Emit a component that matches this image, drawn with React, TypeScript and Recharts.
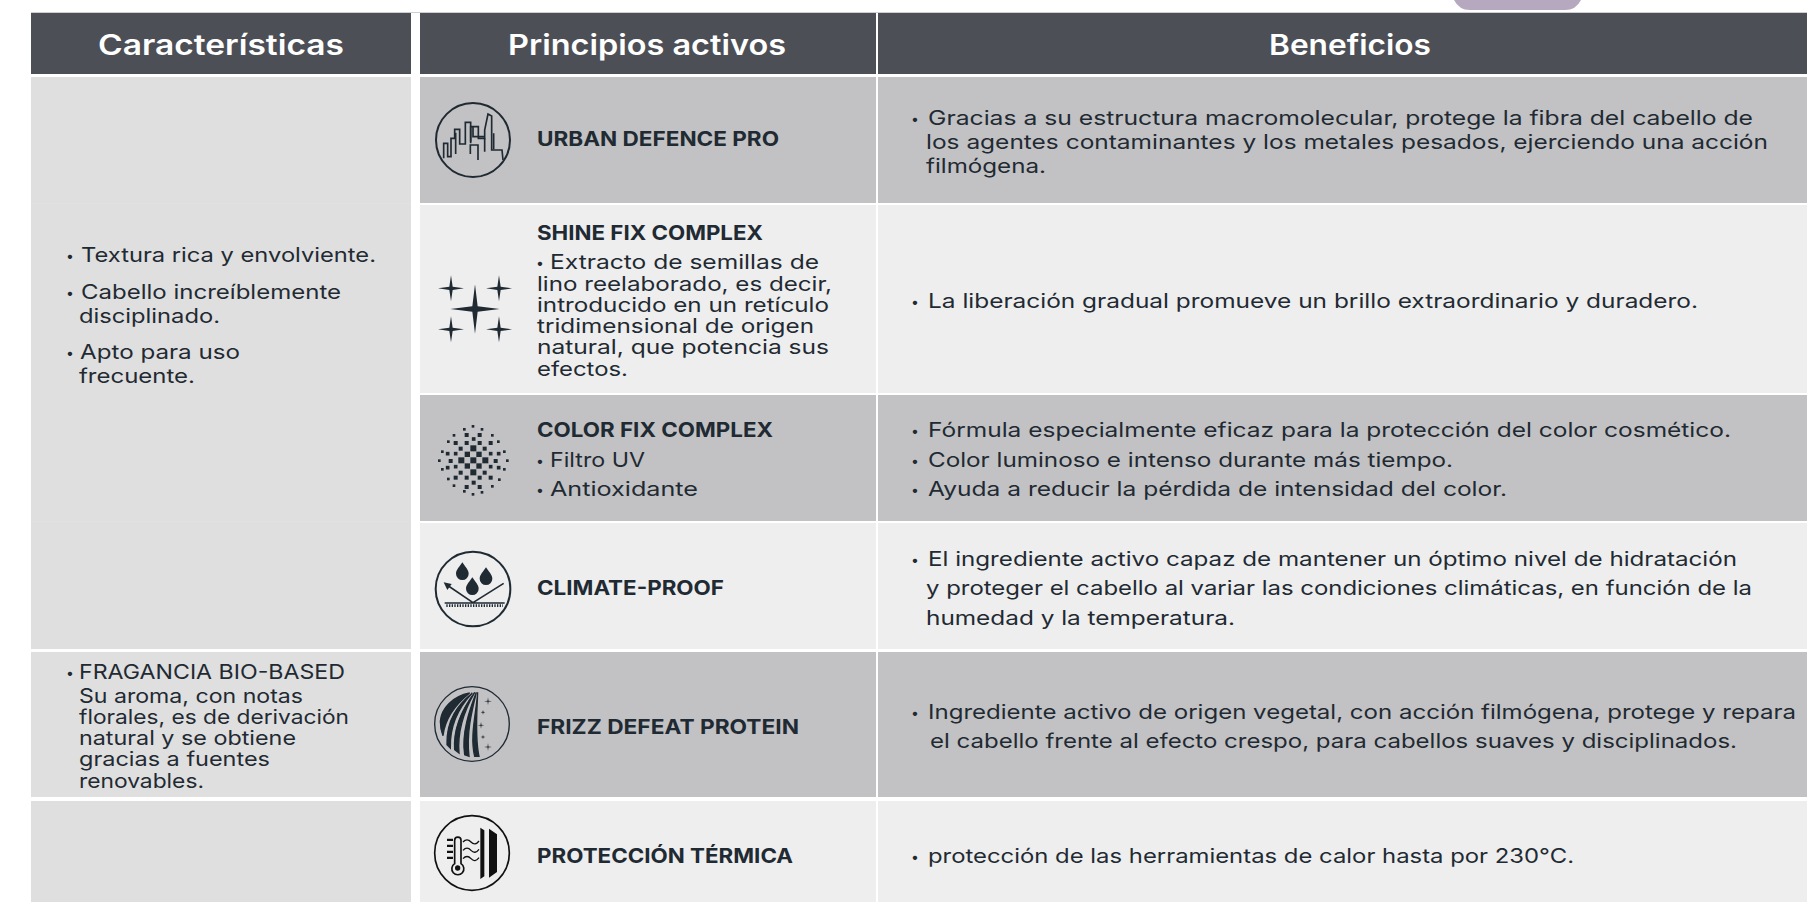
import React from 'react'
import { ScatterChart, Scatter, XAxis, YAxis, ReferenceArea } from 'recharts'

const WIDTH = 1807
const HEIGHT = 902
const FONT = 'Inter, "Noto Sans", sans-serif'
const INK = '#1f2a33'

// table grid, in axis units
const columnEdges = [[31, 411], [420, 876], [878, 1807]]
const rowEdges = [[77, 203], [205, 393], [395, 521], [523, 649], [652, 797], [801, 902]]
const rowFills = ['#c2c2c4', '#eeeeee', '#c2c2c4', '#eeeeee', '#c2c2c4', '#eeeeee']
const leftCellEdges = [[77, 649], [652, 797], [801, 902]]
const leftSeams = [203, 521]

const headerText = ['Características', 'Principios activos', 'Beneficios']
const headerSpans = [[98, 344], [508, 786], [1269, 1431]]

const featureText = [
  'Textura rica y envolviente.',
  'Cabello increíblemente',
  'disciplinado.',
  'Apto para uso',
  'frecuente.',
  'FRAGANCIA BIO-BASED',
  'Su aroma, con notas',
  'florales, es de derivación',
  'natural y se obtiene',
  'gracias a fuentes',
  'renovables.',
]
const featureSpans = [[81, 376], [81, 341], [79, 220], [80, 240], [79, 195], [79, 345], [79, 303], [79, 349], [79, 296], [79, 270], [79, 204]]
const featureBaselines = [262, 299, 323, 359, 383, 679, 703, 724, 745, 766, 788]
const featureBullets = [[70, 262], [70, 299], [70, 359], [70, 679]]

const activeTitles = ['URBAN DEFENCE PRO', 'SHINE FIX COMPLEX', 'COLOR FIX COMPLEX', 'CLIMATE-PROOF', 'FRIZZ DEFEAT PROTEIN', 'PROTECCIÓN TÉRMICA']
const activeTitleSpans = [[537, 779], [537, 763], [537, 773], [537, 724], [537, 799], [537, 793]]
const activeTitleBaselines = [146, 240, 437, 595, 734, 863]

const activeNotes = [
  'Extracto de semillas de',
  'lino reelaborado, es decir,',
  'introducido en un retículo',
  'tridimensional de origen',
  'natural, que potencia sus',
  'efectos.',
  'Filtro UV',
  'Antioxidante',
]
const activeNoteSpans = [[550, 819], [537, 832], [537, 829], [537, 814], [537, 829], [537, 628], [550, 645], [550, 698]]
const activeNoteBaselines = [269, 291, 312, 333, 354, 376, 467, 496]
const activeBullets = [[540, 269], [540, 467], [540, 496]]

const benefitText = [
  'Gracias a su estructura macromolecular, protege la fibra del cabello de',
  'los agentes contaminantes y los metales pesados, ejerciendo una acción',
  'filmógena.',
  'La liberación gradual promueve un brillo extraordinario y duradero.',
  'Fórmula especialmente eficaz para la protección del color cosmético.',
  'Color luminoso e intenso durante más tiempo.',
  'Ayuda a reducir la pérdida de intensidad del color.',
  'El ingrediente activo capaz de mantener un óptimo nivel de hidratación',
  'y proteger el cabello al variar las condiciones climáticas, en función de la',
  'humedad y la temperatura.',
  'Ingrediente activo de origen vegetal, con acción filmógena, protege y repara',
  'el cabello frente al efecto crespo, para cabellos suaves y disciplinados.',
  'protección de las herramientas de calor hasta por 230°C.',
]
const benefitSpans = [[928, 1753], [926, 1768], [926, 1046], [928, 1698], [928, 1731], [928, 1453], [928, 1507], [928, 1737], [926, 1752], [926, 1235], [928, 1796], [930, 1737], [928, 1574]]
const benefitBaselines = [125, 149, 173, 308, 437, 467, 496, 566, 595, 625, 719, 748, 863]
const benefitBullets = [[915, 125], [915, 308], [915, 437], [915, 467], [915, 496], [915, 566], [915, 719], [915, 863]]

const iconNames = ['city', 'sparkle', 'dots', 'climate', 'frizz', 'thermal']
const iconCentres = [[473, 140], [475, 309], [473, 460], [473, 589], [472, 724], [472, 853]]

const lines = (text: string[], spans: number[][], baselines: number[], size: number, weight: number, fill: string) =>
  text.map((t, i) => ({ x: spans[i][0], y: baselines[i], w: spans[i][1] - spans[i][0], text: t, size, weight, fill }))

const textPoints = [
  ...lines(headerText, headerSpans, [55, 55, 55], 28, 600, '#ffffff'),
  ...lines(featureText, featureSpans, featureBaselines, 20, 400, INK),
  ...lines(activeTitles, activeTitleSpans, activeTitleBaselines, 20, 700, INK),
  ...lines(activeNotes, activeNoteSpans, activeNoteBaselines, 20, 400, INK),
  ...lines(benefitText, benefitSpans, benefitBaselines, 20, 400, INK),
]
const bulletPoints = [...featureBullets, ...activeBullets, ...benefitBullets].map(([x, y]) => ({ x, y }))
const iconPoints = iconNames.map((name, i) => ({ x: iconCentres[i][0], y: iconCentres[i][1], name }))

const TextMark = ({ cx, cy, payload }: any) => (
  <text x={cx} y={cy} textLength={payload.w} lengthAdjust="spacingAndGlyphs" fontFamily={FONT}
    fontSize={payload.size} fontWeight={payload.weight} fill={payload.fill}>
    {payload.text}
  </text>
)

const BulletMark = ({ cx, cy }: any) => (
  <text x={cx} y={cy - 1} textAnchor="middle" fontFamily={FONT} fontSize={14} fill={INK}>•</text>
)

// four pointed star with straight edges
const star = (x: number, y: number, a: number, w = 3) =>
  `M${x - a} ${y} L${x - w} ${y - w} L${x} ${y - a} L${x + w} ${y - w} L${x + a} ${y} L${x + w} ${y + w} L${x} ${y + a} L${x - w} ${y + w}Z`

const drop = (x: number, y: number) =>
  `M${x} ${y} C${x + 8} ${y + 13} ${x + 19} ${y + 22} ${x + 19} ${y + 34} A19 19 0 0 1 ${x - 19} ${y + 34} C${x - 19} ${y + 22} ${x - 8} ${y + 13} ${x} ${y}Z`

const dotSquares = [
  [161, 115, 18], [143, 133, 16], [178, 133, 16], [125, 151, 18], [161, 151, 18], [197, 151, 18], [143, 168, 16], [178, 168, 16], [161, 187, 18],
  [123, 116, 12], [195, 116, 12], [141, 99, 12], [180, 99, 12], [162, 87, 11], [108, 99, 12], [213, 99, 12], [108, 131, 11], [213, 131, 11],
  [84, 131, 11], [237, 131, 11], [93, 153, 12], [228, 153, 12], [84, 173, 11], [237, 173, 11], [108, 170, 11], [213, 170, 11], [123, 188, 12],
  [195, 188, 12], [108, 203, 12], [213, 203, 12], [141, 203, 12], [180, 203, 12], [162, 218, 12], [141, 231, 12], [180, 231, 12], [141, 75, 12], [180, 75, 12],
  [160, 49, 8], [134, 58, 8], [187, 58, 8], [103, 76, 8], [218, 76, 8], [86, 95, 8], [236, 95, 8], [68, 125, 8], [254, 125, 8], [59, 152, 8], [263, 152, 8],
  [68, 178, 8], [254, 178, 8], [86, 207, 8], [239, 209, 8], [103, 227, 8], [218, 229, 8], [134, 244, 8], [187, 247, 8], [160, 253, 8],
]

// icons are drawn at 3x in their own box, centred on the point
const IconMark = ({ cx, cy, payload }: any) => {
  const open = (ox: number, oy: number, body: React.ReactNode) => (
    <g transform={`translate(${cx} ${cy}) scale(${1 / 3}) translate(${-ox} ${-oy})`}>{body}</g>
  )
  const line = { fill: 'none', stroke: INK, strokeWidth: 5 }
  switch (payload.name) {
    case 'city':
      return open(160, 150, <>
        <circle cx={160} cy={150} r={111} {...line} strokeWidth={6} />
        <path {...line} d="M72 205 V160 H84 V200 H94 V145 H105 V118 H120 V162 H137 V97 H153 V155" />
        <path {...line} d="M108 192 V128 M153 160 V110 H176 V145 H195 V120 L205 72 L216 78 V180 H247 L250 210" />
        <path {...line} d="M152 192 V165 H175 V210 M195 145 V185 M160 110 V140 H195 M222 130 V178" />
      </>)
    case 'sparkle':
      return open(165, 219, <>
        <path fill={INK} d={star(165, 219, 74, 8)} />
        {[[93, 157], [237, 157], [93, 280], [237, 280]].map(([x, y]) => <path key={x * y} fill={INK} d={star(x, y, 39, 5)} />)}
      </>)
    case 'dots':
      return open(160, 150, <>
        {dotSquares.map(([x, y, s]) => <rect key={`${x}-${y}`} x={x - s / 2} y={y - s / 2} width={s} height={s} fill={INK} />)}
      </>)
    case 'climate':
      return open(160, 537, <>
        <circle cx={160} cy={537} r={112} {...line} strokeWidth={6} />
        <path fill={INK} d={drop(128, 457)} />
        <path fill={INK} d={drop(199, 472)} />
        <path fill={INK} d={drop(158, 502)} />
        <path {...line} d="M160 578 L82 525 M160 578 L252 520 M75 579 H255" />
        <path fill={INK} d="M72 517 L96 522 L83 540Z" />
        <path {...line} strokeWidth={8} strokeDasharray="4 4" d="M80 587 H250" />
      </>)
    case 'frizz':
      return open(157, 223, <>
        <circle cx={157} cy={223} r={112} {...line} strokeWidth={4} />
        <g fill={INK} stroke={INK} strokeWidth={4}>
          <path d="M150 130 C100 140 65 175 62 215 C62 235 65 245 70 258 C75 215 100 170 150 130Z" />
          <path d="M158 130 C115 165 80 210 82 285 L92 295 C90 230 115 175 158 130Z" />
          <path d="M165 128 C130 175 100 230 105 300 L118 310 C112 240 135 180 165 128Z" />
          <path d="M170 128 C150 180 125 250 135 315 L148 320 C140 250 155 190 170 128Z" />
          <path d="M174 128 C170 190 150 260 165 320 L178 320 C165 260 172 190 174 128Z" />
        </g>
        {[[205, 155, 12], [190, 188, 7], [184, 227, 10], [190, 262, 7], [205, 292, 12]].map(([x, y, a]) => (
          <path key={y} fill={INK} d={star(x, y, a, 1.5)} />
        ))}
      </>)
    default:
      return open(157, 608, <>
        <circle cx={157} cy={608} r={112} fill="none" stroke="#111" strokeWidth={5} />
        <path fill="#111" d="M182 532 L194 540 V678 L182 686Z M208 535 L232 552 V665 L208 682Z" />
        <path fill="none" stroke="#111" strokeWidth={5} d="M105 640 V570 A9.5 9.5 0 0 1 124 570 V640 A18 18 0 1 1 105 640Z" />
        <circle cx={114} cy={653} r={8} fill="#111" />
        <path fill="#111" d="M82 565 H100 V572 H82Z M82 583 H100 V590 H82Z M82 601 H100 V608 H82Z M82 619 H100 V626 H82Z" />
        <path fill="none" stroke="#111" strokeWidth={4} d="M130 575 Q142 562 154 575 T178 572 M130 600 Q142 587 154 600 T178 597 M130 625 Q142 612 154 625 T178 622" />
      </>)
  }
}

const BottleEdge = ({ x, y, width, height }: any) => (
  <path fill="#b5a8bf" d={`M${x} ${y} Q${x + 5} ${y + height} ${x + 16} ${y + height} H${x + width - 16} Q${x + width - 5} ${y + height} ${x + width} ${y}Z`} />
)

export default function App() {
  return (
    <div style={{ position: 'fixed', left: 0, top: 0, width: WIDTH, height: HEIGHT, background: '#ffffff', overflow: 'hidden' }}>
      <ScatterChart width={WIDTH} height={HEIGHT} margin={{ top: 0, right: 0, bottom: 0, left: 0 }}>
        <XAxis type="number" dataKey="x" domain={[0, WIDTH]} hide />
        <YAxis type="number" dataKey="y" domain={[0, HEIGHT]} reversed hide />
        <ReferenceArea x1={1454} x2={1581} y1={0} y2={10} shape={BottleEdge} />
        <ReferenceArea x1={31} x2={WIDTH} y1={12} y2={13} fill="#cfcfd1" fillOpacity={1} />
        {columnEdges.map(([x1, x2]) => (
          <ReferenceArea key={x1} x1={x1} x2={x2} y1={13} y2={74} fill="#4d4f57" fillOpacity={1} />
        ))}
        {leftCellEdges.map(([y1, y2]) => (
          <ReferenceArea key={y1} x1={columnEdges[0][0]} x2={columnEdges[0][1]} y1={y1} y2={y2} fill="#dfdfdf" fillOpacity={1} />
        ))}
        {leftSeams.map((y) => (
          <ReferenceArea key={y} x1={columnEdges[0][0]} x2={columnEdges[0][1]} y1={y} y2={y + 1} fill="#e1e1e1" fillOpacity={1} />
        ))}
        {rowEdges.map(([y1, y2], i) =>
          columnEdges.slice(1).map(([x1, x2]) => (
            <ReferenceArea key={`${x1}-${y1}`} x1={x1} x2={x2} y1={y1} y2={y2} fill={rowFills[i]} fillOpacity={1} />
          )),
        )}
        <Scatter data={iconPoints} shape={IconMark} isAnimationActive={false} />
        <Scatter data={bulletPoints} shape={BulletMark} isAnimationActive={false} />
        <Scatter data={textPoints} shape={TextMark} isAnimationActive={false} />
      </ScatterChart>
    </div>
  )
}
